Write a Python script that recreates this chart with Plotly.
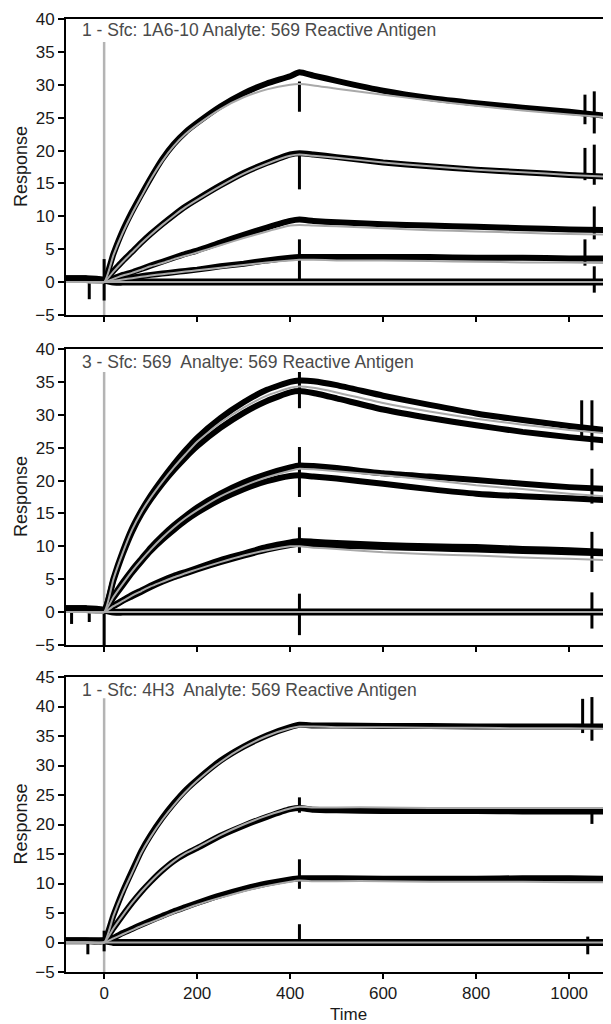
import plotly.graph_objects as go

# ---------------- data ----------------
t = [-82, -40, 0, 20, 40, 60, 80, 100, 125, 150, 175, 200, 250, 300, 350,
     400, 420, 450, 500, 600, 700, 800, 900, 1000, 1090]

# Panel 1 : 1 - Sfc: 1A6-10
p1_data = [
    [0.5, 0.5, 0.3, 4.3, 7.8, 10.7, 13.3, 15.8, 18.7, 21.0, 22.8, 24.2, 26.7, 28.7, 30.2, 31.3, 31.9, 31.4, 30.6, 29.1, 28.0, 27.2, 26.5, 25.9, 25.2],
    [0.5, 0.5, 0.3, 1.7, 3.2, 4.6, 6.0, 7.3, 8.8, 10.2, 11.5, 12.6, 14.7, 16.6, 18.1, 19.4, 19.6, 19.4, 19.0, 18.2, 17.6, 17.1, 16.7, 16.3, 16.0],
    [0.5, 0.5, 0.3, 0.6, 1.1, 1.5, 2.0, 2.5, 3.1, 3.7, 4.3, 4.8, 6.0, 7.2, 8.3, 9.3, 9.5, 9.3, 9.1, 8.8, 8.6, 8.4, 8.2, 8.0, 7.9],
    [0.5, 0.5, 0.3, 0.3, 0.5, 0.7, 0.9, 1.1, 1.3, 1.5, 1.7, 1.9, 2.4, 2.8, 3.3, 3.7, 3.8, 3.8, 3.8, 3.8, 3.8, 3.7, 3.7, 3.6, 3.6],
    [0.5, 0.5, 0.3, 0.0, 0.0, 0.0, 0.0, 0.0, 0.0, 0.0, 0.0, 0.0, 0.0, 0.0, 0.0, 0.0, 0.0, 0.0, 0.0, 0.0, 0.0, 0.0, 0.0, 0.0, 0.0],
]
p1_fit = [
    [0, 0, 0, 4.1, 7.5, 10.4, 13.0, 15.6, 18.4, 20.7, 22.5, 23.9, 26.3, 28.1, 29.3, 30.0, 30.1, 29.9, 29.4, 28.5, 27.6, 26.8, 26.1, 25.5, 25.0],
    [0, 0, 0, 1.6, 3.1, 4.5, 5.9, 7.2, 8.7, 10.1, 11.4, 12.5, 14.6, 16.5, 18.0, 19.2, 19.4, 19.2, 18.9, 18.2, 17.6, 17.1, 16.7, 16.3, 16.0],
    [0, 0, 0, 0.5, 1.0, 1.4, 1.9, 2.4, 2.9, 3.5, 4.0, 4.5, 5.6, 6.7, 7.7, 8.6, 8.7, 8.6, 8.5, 8.2, 7.9, 7.7, 7.5, 7.3, 7.2],
    [0, 0, 0, 0.2, 0.4, 0.6, 0.8, 1.0, 1.2, 1.4, 1.6, 1.8, 2.2, 2.6, 3.0, 3.3, 3.4, 3.4, 3.3, 3.3, 3.2, 3.1, 3.0, 3.0, 2.9],
    [0, 0, 0, 0, 0, 0, 0, 0, 0, 0, 0, 0, 0, 0, 0, 0, 0, 0, 0, 0, 0, 0, 0, 0, 0],
]

# Panel 2 : 3 - Sfc: 569 (duplicate injections)
p2_data = [
    [0.5, 0.5, 0.3, 5.1, 9.2, 12.7, 15.4, 17.7, 20.2, 22.5, 24.6, 26.5, 29.5, 31.9, 33.8, 35.0, 35.2, 35.1, 34.5, 32.9, 31.5, 30.2, 29.2, 28.3, 27.6],
    [0.5, 0.5, 0.3, 4.8, 8.8, 12.2, 14.9, 17.1, 19.5, 21.6, 23.5, 25.2, 28.0, 30.3, 32.1, 33.4, 33.6, 33.3, 32.5, 30.8, 29.5, 28.4, 27.4, 26.6, 26.0],
    [0.5, 0.5, 0.3, 2.4, 4.5, 6.4, 8.1, 9.8, 11.6, 13.2, 14.6, 15.9, 18.0, 19.7, 21.0, 22.0, 22.3, 22.2, 21.9, 21.1, 20.6, 20.1, 19.5, 19.0, 18.7],
    [0.5, 0.5, 0.3, 2.2, 4.1, 6.0, 7.7, 9.3, 11.0, 12.5, 13.9, 15.1, 17.1, 18.7, 19.9, 20.7, 20.8, 20.6, 20.3, 19.5, 18.7, 18.0, 17.6, 17.3, 17.0],
    [0.5, 0.5, 0.3, 1.0, 1.8, 2.6, 3.3, 4.0, 4.8, 5.5, 6.1, 6.7, 7.9, 8.9, 9.9, 10.6, 10.8, 10.7, 10.5, 10.2, 10.0, 9.9, 9.6, 9.4, 9.1],
    [0.5, 0.5, 0.3, 0.9, 1.7, 2.4, 3.1, 3.8, 4.6, 5.3, 5.9, 6.5, 7.6, 8.6, 9.5, 10.2, 10.4, 10.3, 10.1, 9.9, 9.7, 9.5, 9.3, 9.1, 8.9],
    [0.5, 0.5, 0.3, 0.0, 0.0, 0.0, 0.0, 0.0, 0.0, 0.0, 0.0, 0.0, 0.0, 0.0, 0.0, 0.0, 0.0, 0.0, 0.0, 0.0, 0.0, 0.0, 0.0, 0.0, 0.0],
]
p2_fit = [
    [0, 0, 0, 5.0, 9.0, 12.5, 15.2, 17.4, 19.8, 22.0, 24.0, 25.9, 28.8, 31.1, 32.9, 34.1, 34.3, 34.1, 33.4, 31.8, 30.5, 29.4, 28.5, 27.7, 27.1],
    [0, 0, 0, 2.3, 4.3, 6.2, 7.9, 9.5, 11.3, 12.9, 14.3, 15.5, 17.6, 19.2, 20.5, 21.5, 21.8, 21.7, 21.4, 20.8, 20.1, 19.3, 18.7, 18.0, 17.5],
    [0, 0, 0, 0.9, 1.7, 2.5, 3.2, 3.9, 4.6, 5.3, 5.9, 6.5, 7.6, 8.6, 9.4, 10.0, 10.0, 9.8, 9.6, 9.1, 8.8, 8.6, 8.3, 8.1, 7.9],
    [0, 0, 0, 0, 0, 0, 0, 0, 0, 0, 0, 0, 0, 0, 0, 0, 0, 0, 0, 0, 0, 0, 0, 0, 0],
]

# Panel 3 : 1 - Sfc: 4H3
p3_data = [
    [0.3, 0.3, 0.3, 4.6, 8.6, 12.1, 15.5, 18.2, 21.1, 23.6, 25.8, 27.6, 30.8, 33.2, 35.1, 36.5, 36.9, 36.8, 36.8, 36.7, 36.7, 36.6, 36.6, 36.6, 36.6],
    [0.3, 0.3, 0.3, 2.4, 4.6, 6.7, 8.6, 10.3, 12.2, 13.8, 15.0, 16.0, 18.1, 19.8, 21.3, 22.6, 22.8, 22.5, 22.4, 22.3, 22.3, 22.3, 22.2, 22.2, 22.2],
    [0.3, 0.3, 0.3, 0.8, 1.6, 2.3, 3.0, 3.7, 4.5, 5.3, 6.0, 6.7, 8.0, 9.1, 10.0, 10.7, 10.9, 10.9, 10.9, 10.8, 10.8, 10.8, 10.9, 10.9, 10.8],
    [0.3, 0.3, 0.3, 0.0, 0.0, 0.0, 0.0, 0.0, 0.0, 0.0, 0.0, 0.0, 0.0, 0.0, 0.0, 0.0, 0.0, 0.0, 0.0, 0.0, 0.0, 0.0, 0.0, 0.0, 0.0],
]
p3_fit = [
    [0, 0, 0, 4.5, 8.4, 11.8, 15.2, 17.9, 20.8, 23.3, 25.5, 27.4, 30.6, 33.1, 35.0, 36.3, 36.6, 36.6, 36.5, 36.5, 36.4, 36.4, 36.3, 36.3, 36.2],
    [0, 0, 0, 2.4, 4.6, 6.7, 8.6, 10.3, 12.2, 13.8, 15.1, 16.1, 18.2, 20.0, 21.5, 22.7, 23.0, 22.9, 22.9, 22.9, 22.8, 22.8, 22.8, 22.8, 22.8],
    [0, 0, 0, 0.7, 1.4, 2.1, 2.8, 3.4, 4.2, 5.0, 5.7, 6.4, 7.6, 8.7, 9.6, 10.3, 10.5, 10.4, 10.4, 10.4, 10.3, 10.3, 10.3, 10.2, 10.2],
    [0, 0, 0, 0, 0, 0, 0, 0, 0, 0, 0, 0, 0, 0, 0, 0, 0, 0, 0, 0, 0, 0, 0, 0, 0],
]

# injection/wash spikes: time, low, high
p1_spike_t = [-32, 0, 420, 420, 420, 1034, 1054, 1034, 1054, 1054, 1034, 1054, 1086]
p1_spike_lo = [-2.6, -2.8, 25.9, 14.1, 0.0, 24.0, 22.6, 15.5, 14.8, 6.5, 2.5, -1.6, 22.0]
p1_spike_hi = [0.5, 3.5, 30.5, 19.5, 6.5, 28.5, 29.0, 20.4, 20.9, 11.5, 6.5, 2.4, 25.5]

p2_spike_t = [-70, -32, 0, 420, 420, 420, 420, 1027, 1049, 1049, 1085, 1049, 1049]
p2_spike_lo = [-1.8, -1.5, -5.5, 31.0, 17.5, 9.0, -3.5, 26.5, 24.6, 16.5, 14.5, 6.1, -2.5]
p2_spike_hi = [0.5, 0.5, 0.5, 36.5, 25.1, 12.9, 2.8, 32.2, 32.2, 21.8, 17.5, 12.2, 3.0]

p3_spike_t = [-35, 0, 420, 420, 420, 1029, 1049, 1049, 1040]
p3_spike_lo = [-2.0, -1.5, 22.0, 9.1, 0.0, 35.5, 34.2, 20.1, -2.0]
p3_spike_hi = [0.3, 2.0, 24.6, 14.1, 3.1, 41.3, 41.6, 22.5, 1.0]

inject_top = [36.5, 36.5, 41.4]
y_ranges = [[-5, 40], [-5, 40], [-5, 45]]
x_range = [-82, 1090]
x_ticks = [0, 200, 400, 600, 800, 1000]
titles = ["1 - Sfc: 1A6-10 Analyte: 569 Reactive Antigen",
          "3 - Sfc: 569  Analtye: 569 Reactive Antigen",
          "1 - Sfc: 4H3  Analyte: 569 Reactive Antigen"]
title_y = [38.4, 38.0, 42.8]

# ---------------- figure ----------------
FONT = "Liberation Sans, Arial, Helvetica, sans-serif"
BLACK = "#000000"
GREY = "#a9a9a9"
TXT = "#1a1a1a"

fig = go.Figure()
panels = [
    (p1_data, p1_fit, p1_spike_t, p1_spike_lo, p1_spike_hi),
    (p2_data, p2_fit, p2_spike_t, p2_spike_lo, p2_spike_hi),
    (p3_data, p3_fit, p3_spike_t, p3_spike_lo, p3_spike_hi),
]

for i, (data, fits, st, slo, shi) in enumerate(panels):
    xa = "x" if i == 0 else f"x{i+1}"
    ya = "y" if i == 0 else f"y{i+1}"
    fig.add_trace(go.Scatter(x=[0, 0], y=[inject_top[i], y_ranges[i][0]], xaxis=xa, yaxis=ya,
                             mode="lines", line=dict(color="#b4b4b4", width=2.5),
                             showlegend=False, hoverinfo="skip"))
    for d in data:
        w = 7 if max(d[3:]) < 0.5 else 6
        fig.add_trace(go.Scatter(x=t, y=d, xaxis=xa, yaxis=ya, mode="lines",
                                 line=dict(color=BLACK, width=w, shape="spline", smoothing=0.5),
                                 showlegend=False))
    sx, sy = [], []
    for tt, lo, hi in zip(st, slo, shi):
        sx += [tt, tt, None]
        sy += [lo, hi, None]
    fig.add_trace(go.Scatter(x=sx, y=sy, xaxis=xa, yaxis=ya, mode="lines",
                             line=dict(color=BLACK, width=3), showlegend=False))
    for f in fits:
        fig.add_trace(go.Scatter(x=t, y=f, xaxis=xa, yaxis=ya, mode="lines",
                                 line=dict(color=GREY, width=2, shape="spline", smoothing=0.5),
                                 showlegend=False))

# page has an 8px body margin: figure is placed at (8, 8)
OFF = 8
W, H = 611 - OFF, 1024 - OFF
# target pixel geometry in the screenshot: plot x 66..611, panels y 19-315, 349-645, 677-972
top = 19 - OFF
bottom = 1024 - 972
plot_h = H - top - bottom
def dom(py_top, py_bot):
    return [(1024 - bottom - py_bot) / plot_h, (1024 - bottom - py_top) / plot_h]

domains = [dom(19, 315), dom(349, 645), dom(677, 972)]
plot_w = W - (66 - OFF)

layout = dict(
    width=W, height=H,
    margin=dict(l=66 - OFF, r=0, t=top, b=bottom, pad=0),
    paper_bgcolor="white", plot_bgcolor="white",
    font=dict(family=FONT, size=17, color=TXT),
    showlegend=False,
)

for i in range(3):
    xk = "xaxis" if i == 0 else f"xaxis{i+1}"
    yk = "yaxis" if i == 0 else f"yaxis{i+1}"
    ya = "y" if i == 0 else f"y{i+1}"
    xa = "x" if i == 0 else f"x{i+1}"
    layout[xk] = dict(domain=[0, 1], anchor=ya, range=x_range, tickvals=x_ticks,
                      showticklabels=(i == 2), ticks="outside", ticklen=5, tickwidth=2,
                      tickcolor=BLACK, showline=True, linecolor=BLACK, linewidth=2,
                      mirror=True, showgrid=False, zeroline=False,
                      ticklabelstandoff=0,
                      tickfont=dict(size=17, color=TXT))
    layout[yk] = dict(domain=domains[i], anchor=xa, range=y_ranges[i], dtick=5, tick0=0,
                      ticks="outside", ticklen=6, tickwidth=2, tickcolor=BLACK,
                      showline=True, linecolor=BLACK, linewidth=2, showgrid=False,
                      zeroline=False, tickfont=dict(size=17, color=TXT))

fig.update_layout(**layout)

annotations = []
for i in range(3):
    xa = "x" if i == 0 else f"x{i+1}"
    ya = "y" if i == 0 else f"y{i+1}"
    annotations.append(dict(x=-52, y=title_y[i], xref=xa, yref=ya, text=titles[i],
                            showarrow=False, xanchor="left", yanchor="middle",
                            font=dict(family=FONT, size=17.5, color="#4a4a4a")))
    annotations.append(dict(x=(21 - 66) / plot_w, y=0.5, xref="paper", yref=f"{ya} domain",
                            text="Response", textangle=-90, showarrow=False,
                            xanchor="center", yanchor="middle",
                            font=dict(family=FONT, size=18, color=TXT)))
annotations.append(dict(x=(348 - 66) / plot_w, y=(972 - 1014) / plot_h, xref="paper", yref="paper",
                        text="Time", showarrow=False, xanchor="center", yanchor="middle",
                        font=dict(family=FONT, size=17, color=TXT)))
fig.update_layout(annotations=annotations)

fig.write_html("out.html")
